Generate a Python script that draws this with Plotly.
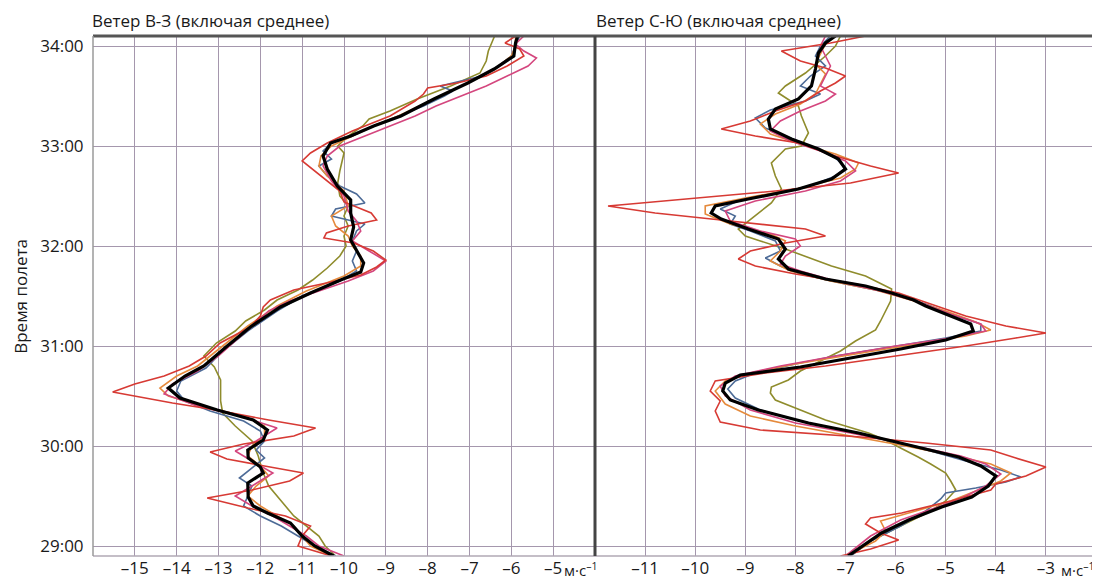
import plotly.graph_objects as go

# ---------------- East-West wind (left panel) ----------------
ew_mean_t = [28.9, 29.0, 29.1, 29.23, 29.33, 29.4, 29.49, 29.63, 29.73, 29.79, 29.88, 29.96, 30.06, 30.16, 30.26,
             30.36, 30.48, 30.58, 30.7, 30.8, 30.99, 31.19, 31.39, 31.53, 31.66, 31.74, 31.83, 31.96, 32.06, 32.19,
             32.33, 32.46, 32.6, 32.77, 32.9, 33.03, 33.1, 33.2, 33.3, 33.47, 33.63, 33.77, 33.9, 34.03, 34.1]
ew_mean_v = [-10.25, -10.7, -11.0, -11.28, -11.83, -12.17, -12.29, -12.3, -11.93, -12.0, -12.29, -12.3, -11.93,
             -11.83, -12.17, -13.03, -13.92, -14.2, -13.8, -13.35, -12.82, -12.24, -11.52, -10.8, -10.08, -9.6,
             -9.53, -9.7, -9.84, -9.77, -9.84, -9.84, -10.16, -10.4, -10.5, -10.32, -9.84, -9.29, -8.64, -7.85,
             -7.04, -6.41, -5.94, -5.9, -5.85]

ew_red_t = [28.9, 29.0, 29.1, 29.2, 29.3, 29.38, 29.48, 29.56, 29.65, 29.73, 29.8, 29.87, 29.94, 30.02, 30.1,
            30.18, 30.26, 30.36, 30.43, 30.54, 30.62, 30.7, 30.8, 30.9, 31.03, 31.19, 31.3, 31.39, 31.46, 31.56,
            31.63, 31.71, 31.79, 31.86, 31.95, 32.03, 32.08, 32.13, 32.2, 32.26, 32.33, 32.44, 32.55, 32.65,
            32.75, 32.85, 32.93, 33.03, 33.15, 33.3, 33.45, 33.52, 33.58, 33.63, 33.7, 33.8, 33.9, 33.97, 34.03, 34.1]
ew_red_v = [-10.3, -11.1, -11.0, -10.8, -11.4, -12.3, -13.27, -12.2, -11.3, -10.97, -11.9, -12.8, -13.2, -12.4,
            -11.2, -10.68, -11.8, -13.06, -14.1, -15.53, -15.0, -14.3, -13.7, -13.3, -12.96, -12.24, -12.0,
            -11.93, -11.76, -11.2, -10.42, -9.6, -9.22, -9.0, -9.3, -9.77, -10.48, -10.42, -9.9, -9.22, -9.35,
            -10.0, -10.1, -10.4, -10.7, -11.0, -10.8, -10.4, -9.8, -8.9, -8.3, -8.1, -8.0, -7.3, -6.6, -6.1,
            -5.7, -5.8, -6.15, -5.9]

ew_pink_t = [28.9, 29.0, 29.1, 29.2, 29.3, 29.4, 29.5, 29.6, 29.73, 29.85, 29.95, 30.05, 30.18, 30.3, 30.4, 30.52,
             30.62, 30.75, 30.9, 31.05, 31.2, 31.35, 31.45, 31.55, 31.65, 31.75, 31.85, 31.95, 32.05, 32.15, 32.25,
             32.35, 32.5, 32.65, 32.8, 32.9, 33.0, 33.1, 33.2, 33.3, 33.4, 33.5, 33.6, 33.7, 33.8, 33.88, 33.95,
             34.02, 34.1]
ew_pink_v = [-10.0, -10.6, -10.9, -11.3, -11.7, -12.2, -12.6, -12.2, -11.7, -12.2, -12.6, -12.1, -11.6, -12.5,
             -13.5, -14.3, -14.1, -13.5, -13.0, -12.6, -12.2, -11.8, -11.3, -10.6, -9.9, -9.3, -9.0, -9.4, -9.8,
             -9.6, -9.7, -9.9, -10.0, -10.3, -10.5, -10.4, -10.1, -9.5, -8.9, -8.3, -7.8, -7.2, -6.6, -6.1, -5.6,
             -5.4, -5.7, -5.9, -5.7]

ew_blue_t = [28.9, 29.0, 29.1, 29.2, 29.3, 29.4, 29.5, 29.6, 29.68, 29.78, 29.88, 29.96, 30.05, 30.15, 30.25,
             30.35, 30.45, 30.55, 30.65, 30.78, 30.95, 31.15, 31.35, 31.5, 31.65, 31.75, 31.85, 31.95, 32.05,
             32.15, 32.22, 32.3, 32.37, 32.43, 32.52, 32.6, 32.7, 32.8, 32.87, 32.95, 33.03, 33.1, 33.2, 33.3,
             33.4, 33.5, 33.55, 33.6, 33.7, 33.8, 33.9, 34.0, 34.1]
ew_blue_v = [-10.2, -10.7, -11.1, -11.5, -12.0, -12.4, -12.3, -12.2, -12.5, -12.2, -11.9, -12.1, -11.9, -12.0,
             -12.4, -13.2, -13.8, -14.0, -13.9, -13.3, -12.9, -12.3, -11.6, -11.0, -10.1, -9.7, -9.8, -9.7, -9.8,
             -9.7, -9.5, -10.3, -10.2, -9.5, -9.7, -10.1, -10.4, -10.6, -10.3, -10.5, -10.3, -9.8, -9.3, -8.7,
             -8.1, -7.6, -7.4, -7.7, -6.7, -6.3, -6.0, -5.9, -5.8]

ew_olive_t = [28.9, 29.0, 29.1, 29.2, 29.3, 29.45, 29.6, 29.75, 29.9, 30.05, 30.2, 30.33, 30.45, 30.55, 30.66,
              30.79, 30.9, 31.03, 31.15, 31.25, 31.36, 31.46, 31.56, 31.66, 31.78, 31.9, 32.0, 32.1, 32.2, 32.3,
              32.4, 32.5, 32.63, 32.75, 32.85, 32.93, 33.0, 33.1, 33.2, 33.27, 33.35, 33.47, 33.6, 33.73, 33.85,
              33.95, 34.05, 34.1]
ew_olive_v = [-10.2, -10.45, -10.6, -10.9, -11.2, -11.5, -11.8, -11.95, -12.05, -12.2, -12.6, -12.9, -12.95,
              -12.95, -12.95, -13.1, -13.35, -13.05, -12.6, -12.35, -11.9, -11.6, -11.1, -10.75, -10.4, -10.1,
              -9.95, -10.0, -9.9, -10.0, -9.9, -10.1, -10.15, -10.1, -10.05, -10.0, -10.15, -9.9, -9.55, -9.4,
              -8.9, -8.25, -7.45, -6.75, -6.6, -6.55, -6.45, -6.4]

ew_orange_t = [28.9, 29.0, 29.1, 29.2, 29.3, 29.4, 29.5, 29.6, 29.7, 29.8, 29.9, 30.0, 30.1, 30.2, 30.3, 30.4,
               30.5, 30.58, 30.7, 30.8, 31.0, 31.2, 31.4, 31.55, 31.7, 31.8, 31.9, 32.0, 32.1, 32.2, 32.3, 32.4,
               32.55, 32.7, 32.8, 32.9, 33.0, 33.1, 33.2, 33.3, 33.4, 33.5, 33.6, 33.7, 33.8, 33.9, 34.0, 34.1]
ew_orange_v = [-10.3, -10.8, -11.0, -11.2, -11.6, -12.0, -12.3, -12.1, -11.8, -12.0, -12.3, -12.2, -11.9, -11.9,
               -12.4, -13.4, -14.2, -14.4, -14.0, -13.5, -12.9, -12.3, -11.6, -10.9, -10.0, -9.6, -9.6, -9.8,
               -9.9, -10.2, -10.3, -9.9, -10.0, -10.4, -10.6, -10.55, -10.3, -9.8, -9.3, -8.7, -8.2, -7.7, -7.2,
               -6.7, -6.3, -6.0, -5.9, -5.9]

# ---------------- North-South wind (right panel) ----------------
ns_mean_t = [28.9, 29.13, 29.26, 29.39, 29.49, 29.6, 29.7, 29.8, 29.89, 30.03, 30.13, 30.23, 30.36, 30.46, 30.55,
             30.63, 30.71, 30.79, 30.88, 30.97, 31.06, 31.15, 31.22, 31.3, 31.4, 31.46, 31.53, 31.6, 31.67, 31.77,
             31.87, 31.97, 32.07, 32.17, 32.27, 32.33, 32.4, 32.47, 32.57, 32.67, 32.77, 32.87, 32.97, 33.07,
             33.17, 33.27, 33.37, 33.47, 33.6, 33.77, 33.93, 34.03, 34.1]
ns_mean_v = [-6.95, -6.28, -5.74, -5.08, -4.48, -4.15, -4.0, -4.3, -4.74, -5.94, -6.74, -7.74, -8.74, -9.3, -9.45,
             -9.4, -9.1, -7.9, -6.9, -5.9, -5.0, -4.45, -4.5, -4.9, -5.4, -5.64, -6.08, -6.6, -7.4, -8.14, -8.34,
             -8.2, -8.34, -8.94, -9.48, -9.68, -9.6, -8.94, -7.94, -7.28, -7.0, -7.14, -7.54, -8.08, -8.5, -8.54,
             -8.4, -7.94, -7.68, -7.6, -7.54, -7.4, -7.2]

ns_red_t = [28.9, 28.97, 29.06, 29.13, 29.22, 29.28, 29.33, 29.45, 29.56, 29.62, 29.7, 29.79, 29.88, 29.96, 30.03,
            30.09, 30.16, 30.24, 30.35, 30.45, 30.55, 30.65, 30.73, 30.8, 30.9, 31.0, 31.08, 31.13, 31.2, 31.3,
            31.42, 31.53, 31.62, 31.72, 31.8, 31.87, 31.95, 32.03, 32.1, 32.17, 32.25, 32.33, 32.4, 32.47, 32.55,
            32.63, 32.73, 32.8, 32.9, 33.03, 33.1, 33.17, 33.25, 33.35, 33.45, 33.55, 33.63, 33.7, 33.78, 33.85,
            33.95, 34.03, 34.1]
ns_red_v = [-7.1, -6.5, -5.94, -6.3, -6.6, -6.5, -5.88, -4.9, -4.1, -4.0, -3.4, -3.0, -3.6, -4.1, -5.4, -6.7,
            -8.7, -9.5, -9.6, -9.5, -9.7, -9.6, -8.6, -7.4, -6.0, -4.6, -3.6, -3.0, -3.8, -4.6, -5.3, -5.94, -6.8,
            -8.0, -8.8, -9.14, -8.9, -8.2, -7.4, -7.8, -9.3, -10.8, -11.74, -10.2, -8.4, -6.9, -5.94, -6.5, -7.2,
            -7.94, -8.8, -9.48, -8.9, -8.4, -7.8, -7.5, -7.2, -7.0, -7.4, -7.9, -8.28, -7.3, -6.6]

ns_pink_t = [28.9, 29.1, 29.26, 29.4, 29.5, 29.6, 29.72, 29.82, 29.9, 30.03, 30.13, 30.23, 30.36, 30.5, 30.6, 30.7,
             30.8, 30.9, 31.0, 31.08, 31.15, 31.22, 31.32, 31.45, 31.55, 31.65, 31.75, 31.82, 31.9, 32.0, 32.07,
             32.15, 32.25, 32.35, 32.45, 32.55, 32.65, 32.75, 32.85, 32.95, 33.05, 33.15, 33.25, 33.35, 33.45,
             33.52, 33.6, 33.7, 33.8, 33.9, 34.0, 34.1]
ns_pink_v = [-7.0, -6.5, -5.9, -5.1, -4.6, -4.2, -3.9, -4.2, -4.7, -5.9, -6.9, -8.0, -8.9, -9.4, -9.5, -9.2, -8.3,
             -7.2, -6.0, -4.9, -4.2, -4.3, -4.9, -5.6, -6.3, -7.2, -7.9, -8.3, -8.2, -7.9, -8.0, -8.7, -9.3, -9.4,
             -8.8, -7.8, -7.1, -6.8, -7.0, -7.5, -8.1, -8.5, -8.3, -7.9, -7.4, -7.2, -7.5, -7.4, -7.3, -7.4, -7.5,
             -7.4]

ns_blue_t = [28.9, 29.05, 29.2, 29.35, 29.47, 29.53, 29.58, 29.64, 29.69, 29.76, 29.85, 29.95, 30.05, 30.15, 30.25,
             30.36, 30.48, 30.57, 30.65, 30.73, 30.82, 30.9, 31.0, 31.08, 31.15, 31.22, 31.32, 31.42, 31.53, 31.62,
             31.72, 31.8, 31.88, 31.95, 32.05, 32.15, 32.22, 32.3, 32.37, 32.45, 32.52, 32.6, 32.7, 32.78, 32.88,
             32.98, 33.08, 33.18, 33.28, 33.36, 33.45, 33.52, 33.6, 33.7, 33.8, 33.9, 34.0, 34.1]
ns_blue_v = [-6.9, -6.5, -5.9, -5.4, -5.1, -5.0, -4.4, -3.8, -3.5, -3.9, -4.6, -5.3, -6.1, -7.0, -7.9, -8.7, -9.2,
             -9.35, -9.2, -8.8, -8.0, -7.2, -6.0, -5.0, -4.3, -4.3, -4.9, -5.4, -6.1, -7.0, -7.9, -8.3, -8.6, -8.3,
             -8.4, -8.9, -9.3, -9.2, -9.5, -9.15, -8.5, -7.7, -7.2, -7.0, -7.2, -7.6, -8.1, -8.6, -8.8, -8.5, -7.8,
             -7.5, -7.9, -7.7, -7.4, -7.6, -7.5, -7.3]

ns_olive_t = [28.9, 29.05, 29.2, 29.35, 29.45, 29.56, 29.65, 29.73, 29.82, 29.89, 29.99, 30.06, 30.13, 30.2, 30.26,
              30.36, 30.46, 30.53, 30.59, 30.66, 30.75, 30.85, 30.95, 31.05, 31.16, 31.25, 31.35, 31.45, 31.57,
              31.65, 31.7, 31.8, 31.9, 31.97, 32.05, 32.1, 32.17, 32.3, 32.43, 32.57, 32.7, 32.83, 32.92, 32.97,
              33.0, 33.13, 33.3, 33.4, 33.53, 33.6, 33.73, 33.9, 34.0, 34.1]
ns_olive_v = [-6.9, -6.5, -5.9, -5.3, -5.0, -4.8, -4.9, -5.0, -5.3, -5.55, -5.94, -6.2, -6.54, -7.0, -7.4, -7.9,
              -8.4, -8.5, -8.48, -8.14, -7.9, -7.5, -7.1, -6.8, -6.4, -6.3, -6.2, -6.1, -6.08, -6.4, -6.6, -7.28,
              -7.8, -8.2, -8.7, -9.0, -9.14, -8.8, -8.48, -8.28, -8.4, -8.48, -8.3, -8.2, -7.88, -7.74, -7.88,
              -7.94, -8.34, -8.2, -7.8, -7.4, -7.2, -7.1]

ns_orange_t = [28.9, 29.05, 29.15, 29.25, 29.35, 29.45, 29.55, 29.65, 29.73, 29.82, 29.9, 30.0, 30.1, 30.2, 30.3,
               30.42, 30.55, 30.65, 30.73, 30.82, 30.92, 31.02, 31.1, 31.16, 31.24, 31.35, 31.46, 31.56, 31.65,
               31.75, 31.85, 31.95, 32.05, 32.12, 32.22, 32.32, 32.4, 32.48, 32.58, 32.68, 32.77, 32.83, 32.92,
               33.02, 33.12, 33.22, 33.32, 33.42, 33.52, 33.62, 33.72, 33.82, 33.92, 34.02, 34.1]
ns_orange_v = [-7.0, -6.4, -6.2, -6.3, -5.6, -4.9, -4.4, -3.9, -3.7, -4.1, -4.8, -5.8, -6.9, -8.0, -8.9, -9.4,
               -9.6, -9.4, -8.9, -8.0, -6.8, -5.6, -4.6, -4.1, -4.4, -5.0, -5.7, -6.4, -7.3, -8.1, -8.5, -8.3,
               -8.2, -8.5, -9.3, -9.8, -9.8, -9.0, -7.9, -7.1, -6.8, -6.74, -7.2, -7.9, -8.5, -8.7, -8.4, -7.9,
               -7.6, -7.5, -7.4, -7.6, -7.5, -7.4, -7.2]

# ---------------- axes / labels ----------------
time_ticks = [29, 30, 31, 32, 33, 34]
time_labels = ["29:00", "30:00", "31:00", "32:00", "33:00", "34:00"]
ew_ticks = [-15, -14, -13, -12, -11, -10, -9, -8, -7, -6, -5]
ns_ticks = [-11, -10, -9, -8, -7, -6, -5, -4, -3]
title_left = "Ветер В-З (включая среднее)"
title_right = "Ветер С-Ю (включая среднее)"
y_title = "Время полета"
unit_text = "м·с<sup>–1</sup>"

colors = {
    "olive": "#8f8c2c",
    "blue": "#4d6b97",
    "orange": "#e58a3c",
    "pink": "#d4467e",
    "red": "#d73a34",
    "mean": "#000000",
}


def dash_labels(vals):
    return [("–" + str(abs(v))) if v < 0 else str(v) for v in vals]


fig = go.Figure()

left_series = [
    ("olive", ew_olive_t, ew_olive_v),
    ("blue", ew_blue_t, ew_blue_v),
    ("orange", ew_orange_t, ew_orange_v),
    ("pink", ew_pink_t, ew_pink_v),
    ("red", ew_red_t, ew_red_v),
    ("mean", ew_mean_t, ew_mean_v),
]
right_series = [
    ("olive", ns_olive_t, ns_olive_v),
    ("blue", ns_blue_t, ns_blue_v),
    ("orange", ns_orange_t, ns_orange_v),
    ("pink", ns_pink_t, ns_pink_v),
    ("red", ns_red_t, ns_red_v),
    ("mean", ns_mean_t, ns_mean_v),
]

for name, t, v in left_series:
    fig.add_trace(go.Scatter(x=v, y=t, mode="lines", xaxis="x", yaxis="y",
                             line=dict(color=colors[name], width=3.2 if name == "mean" else 1.6),
                             showlegend=False, hoverinfo="skip"))
for name, t, v in right_series:
    fig.add_trace(go.Scatter(x=v, y=t, mode="lines", xaxis="x2", yaxis="y",
                             line=dict(color=colors[name], width=3.2 if name == "mean" else 1.6),
                             showlegend=False, hoverinfo="skip"))

grid_color = "#a597ad"
FONT = "Open Sans, Noto Sans, sans-serif"
tick_font = dict(family=FONT, size=17, color="#1a1a1a")
split = 0.5005

# the page body adds an 8px margin, so the figure is sized to fit inside the window
fig.update_layout(
    width=1092, height=577,
    margin=dict(l=85, r=4, t=28, b=29, autoexpand=False),
    paper_bgcolor="white", plot_bgcolor="white",
    font=dict(family=FONT, color="#1a1a1a"),
    xaxis=dict(domain=[0, split], range=[-16, -4], tickvals=ew_ticks, ticktext=dash_labels(ew_ticks),
               showgrid=True, gridcolor=grid_color, gridwidth=1.4, zeroline=False, automargin=False,
               showline=False, ticks="", tickfont=tick_font, anchor="y", fixedrange=True),
    xaxis2=dict(domain=[split, 1], range=[-12, -2], tickvals=ns_ticks, ticktext=dash_labels(ns_ticks),
                showgrid=True, gridcolor=grid_color, gridwidth=1.4, zeroline=False, automargin=False,
                showline=False, ticks="", tickfont=tick_font, anchor="y", fixedrange=True),
    yaxis=dict(range=[28.9, 34.1], tickvals=time_ticks, ticktext=time_labels,
               showgrid=True, gridcolor=grid_color, gridwidth=1.4, zeroline=False, automargin=False,
               showline=False, ticks="outside", ticklen=5, tickcolor="rgba(0,0,0,0)",
               tickfont=tick_font, fixedrange=True),
)

# frame lines
fig.add_shape(type="line", xref="paper", yref="paper", x0=0, x1=1, y0=1, y1=1,
              line=dict(color="#555555", width=3))
fig.add_shape(type="line", xref="paper", yref="paper", x0=0, x1=1, y0=0, y1=0,
              line=dict(color="#b0a8b4", width=1.5))
fig.add_shape(type="line", xref="paper", yref="paper", x0=0, x1=0, y0=0, y1=1,
              line=dict(color="#9a9a9a", width=1.5))
fig.add_shape(type="line", xref="paper", yref="paper", x0=1, x1=1, y0=0, y1=1,
              line=dict(color="#9a9a9a", width=1.5))
fig.add_shape(type="line", xref="paper", yref="paper", x0=split, x1=split, y0=0, y1=1,
              line=dict(color="#444444", width=3))

title_font = dict(family=FONT, size=17, color="#1a1a1a")
fig.add_annotation(text=title_left, xref="paper", yref="paper", x=0, y=1, xanchor="left", yanchor="bottom",
                   xshift=-2, yshift=3, borderpad=0, showarrow=False, font=title_font)
fig.add_annotation(text=title_right, xref="paper", yref="paper", x=split, y=1, xanchor="left", yanchor="bottom",
                   xshift=0, yshift=3, borderpad=0, showarrow=False, font=title_font)
fig.add_annotation(text=y_title, xref="paper", yref="paper", x=-0.073, y=0.5, textangle=-90,
                   xanchor="center", yanchor="middle", showarrow=False,
                   font=dict(family=FONT, size=17, color="#1a1a1a"))
unit_font = dict(family=FONT, size=15, color="#1a1a1a")
fig.add_annotation(text=unit_text, xref="x", yref="paper", x=-4.35, y=0, xanchor="center", yanchor="top",
                   yshift=-1, showarrow=False, font=unit_font)
fig.add_annotation(text=unit_text, xref="x2", yref="paper", x=-2.36, y=0, xanchor="center", yanchor="top",
                   yshift=-1, showarrow=False, font=unit_font)

fig.write_html("out.html")
